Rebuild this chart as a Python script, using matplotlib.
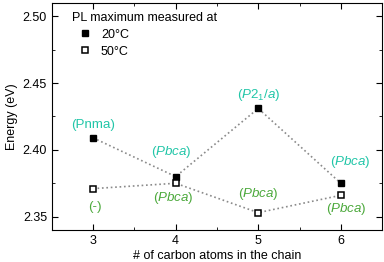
import matplotlib
matplotlib.use("Agg")
import matplotlib.pyplot as plt
from matplotlib.ticker import MultipleLocator

plt.rcParams['font.family'] = ['Liberation Sans', 'DejaVu Sans']
plt.rcParams['mathtext.fontset'] = 'custom'
plt.rcParams['mathtext.rm'] = 'Liberation Sans'
plt.rcParams['mathtext.it'] = 'Liberation Sans:italic'
plt.rcParams['mathtext.bf'] = 'Liberation Sans:bold'

carbons = [3, 4, 5, 6]
e20 = [2.409, 2.380, 2.431, 2.375]
e50 = [2.371, 2.375, 2.353, 2.366]
labels20 = ["(Pnma)", r"($\mathit{Pbca}$)", r"($\mathit{P2_1/a}$)", r"($\mathit{Pbca}$)"]
labels50 = ["(-)", r"($\mathit{Pbca}$)", r"($\mathit{Pbca}$)", r"($\mathit{Pbca}$)"]

# annotation anchors (data coords)
label20_x = [3.0, 3.95, 5.0, 6.11]
label20_y = [2.4187, 2.3985, 2.441, 2.391]
label50_x = [3.02, 3.97, 5.0, 6.07]
label50_y = [2.3575, 2.3642, 2.3672, 2.356]

teal = '#22c6a8'
green = '#4ca93c'

fig = plt.figure(figsize=(3.84, 2.62), dpi=100)
ax = fig.add_axes([0.135, 0.122, 0.86, 0.867])

ax.plot(carbons, e20, ls=':', color='#8a8a8a', lw=1.2, zorder=1)
ax.plot(carbons, e50, ls=':', color='#8a8a8a', lw=1.2, zorder=1)
ax.plot(carbons, e20, ls='none', marker='s', ms=4.5, mfc='black', mec='black', label='20°C', zorder=3)
ax.plot(carbons, e50, ls='none', marker='s', ms=4.5, mfc='white', mec='black', mew=1.1, label='50°C', zorder=3)

for x, y, t in zip(label20_x, label20_y, labels20):
    ax.text(x, y, t, color=teal, fontsize=9.6, ha='center', va='center')
for x, y, t in zip(label50_x, label50_y, labels50):
    ax.text(x, y, t, color=green, fontsize=9.6, ha='center', va='center')

ax.set_xlim(2.5, 6.5)
ax.set_ylim(2.34, 2.51)
ax.xaxis.set_major_locator(MultipleLocator(1))
ax.xaxis.set_minor_locator(MultipleLocator(0.5))
ax.yaxis.set_major_locator(MultipleLocator(0.05))
ax.yaxis.set_minor_locator(MultipleLocator(0.025))
ax.tick_params(which='both', direction='in', top=True, right=True, labelsize=9)
ax.tick_params(which='major', length=4)
ax.tick_params(which='minor', length=2.5)
ax.set_xlabel('# of carbon atoms in the chain', fontsize=9, labelpad=2)
ax.set_ylabel('Energy (eV)', fontsize=9, labelpad=3)

leg = ax.legend(title='PL maximum measured at', loc='upper left', frameon=False,
                fontsize=9, title_fontsize=9, handletextpad=0.3, borderaxespad=0.3,
                labelspacing=0.4, bbox_to_anchor=(0.035, 1.0))
leg._legend_box.align = 'left'

fig.savefig('out.png', dpi=100)
